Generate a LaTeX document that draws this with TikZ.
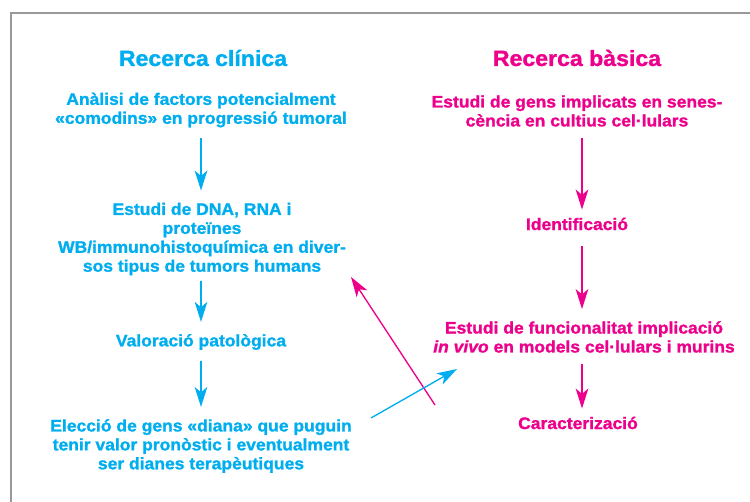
\documentclass[tikz,border=0pt]{standalone}
\usepackage{fontspec}
\setmainfont{Liberation Sans}[FakeStretch=1.05, FakeBold=1.3]
\usetikzlibrary{arrows.meta}
\definecolor{clin}{RGB}{0,174,239}
\definecolor{bas}{RGB}{236,0,140}

\begin{document}
\begin{tikzpicture}[
  x=0.75pt,y=-0.75pt,
  title/.style={font=\fontsize{16.5}{18}\selectfont\bfseries, inner sep=0pt},
  txt/.style={align=center, font=\fontsize{12.5}{14.2}\selectfont\bfseries, inner sep=0pt},
  flowc/.style={-{Stealth[length=15pt, width=9.5pt, inset=4pt]}, line width=1pt, draw=clin, shorten <=8pt, shorten >=9pt},
  flowm/.style={-{Stealth[length=15pt, width=9.5pt, inset=4pt]}, line width=1pt, draw=bas, shorten <=8pt, shorten >=9pt}
]
\useasboundingbox (0,0) rectangle (750,502);
\draw[draw=black!40, line width=1.8pt] (11,502) -- (11,13) -- (750,13);

% left column
\node[title, text=clin] (tclin) at (203,58) {Recerca clínica};
\node[txt, text=clin] (anal) at (201,110)
  {Anàlisi de factors potencialment\\«comodins» en progressió tumoral};
\node[txt, text=clin] (dna) at (202,239)
  {Estudi de DNA, RNA i\\proteïnes\\WB/immunohistoquímica en diver-\\sos tipus de tumors humans};
\node[txt, text=clin] (valor) at (201,342) {Valoració patològica};
\node[txt, text=clin] (tria) at (201,446)
  {Elecció de gens «diana» que puguin\\tenir valor pronòstic i eventualment\\ser dianes terapèutiques};

% right column
\node[title, text=bas] (tbas) at (577,58) {Recerca bàsica};
\node[txt, text=bas] (senes) at (577,111)
  {Estudi de gens implicats en senes-\\cència en cultius cel·lulars};
\node[txt, text=bas] (ident) at (577,224) {Identificació};
\node[txt, text=bas] (func) at (584,337)
  {Estudi de funcionalitat implicació\\\textit{in vivo} en models cel·lulars i murins};
\node[txt, text=bas] (carac) at (578,423) {Caracterizació};

\draw[flowc] (anal.south -| 201,0) -- (dna.north -| 201,0);
\draw[flowc, shorten <=4pt] (dna.south -| 201,0) -- (valor.north -| 201,0);
\draw[flowc] (valor.south -| 201,0) -- (tria.north -| 201,0);

\draw[flowm, shorten >=6pt] (senes.south -| 582,0) -- (ident.north -| 582,0);
\draw[flowm, shorten <=12pt] (ident.south -| 582,0) -- (func.north -| 582,0);
\draw[flowm, shorten >=6pt] (func.south -| 582,0) -- (carac.north -| 582,0);

% crossing arrows
\coordinate (mfrom) at (435,405);
\coordinate (mto) at (351,277);
\coordinate (cfrom) at (371,418);
\coordinate (cto) at (457,369);
\draw[flowm, shorten <=0pt, shorten >=0pt] (mfrom) -- (mto);
\draw[flowc, shorten <=0pt, shorten >=0pt] (cfrom) -- (cto);
\end{tikzpicture}
\end{document}
